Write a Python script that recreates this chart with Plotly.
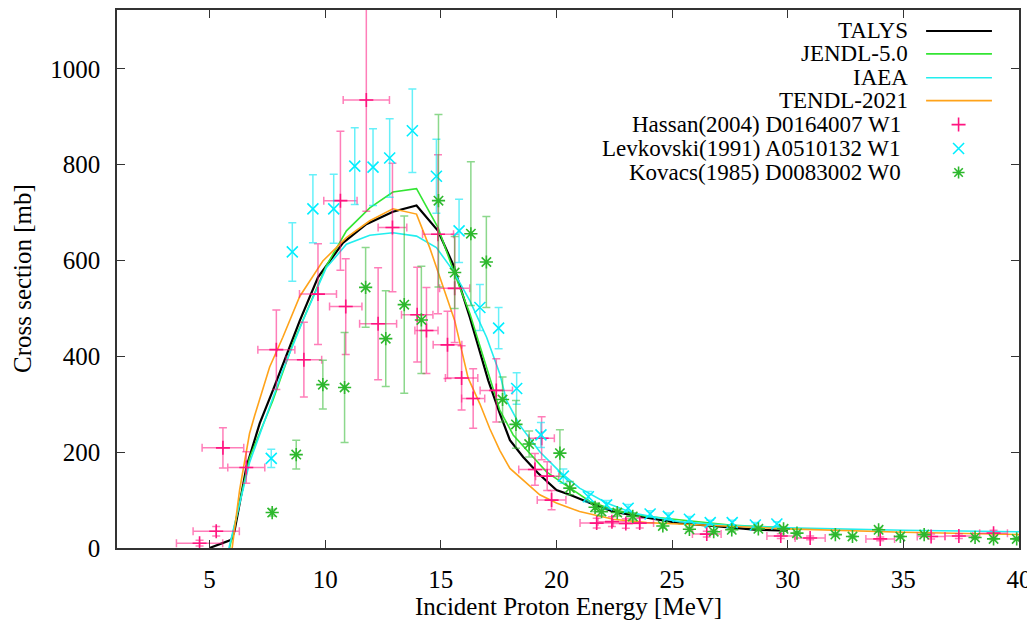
import plotly.graph_objects as go

# ---------------- data ----------------
talys_E = [5.0, 5.94, 6.08, 6.6, 7.17, 7.74, 8.9, 9.69, 10.77, 11.78, 12.93, 13.95, 14.88, 15.53, 16.26,
           17.05, 17.55, 17.99, 18.56, 19.21, 20.0, 20.58, 21.45, 22.46, 23.6, 25.3, 27.0, 28.67, 30.0]
talys_s = [0, 17, 35, 170, 260, 329, 474, 565, 637, 676, 702, 715, 662, 592, 481,
           350, 281, 225, 190, 156, 121, 111, 94, 76, 66, 52, 45, 38, 36]

jendl_E = [5.87, 6.73, 7.74, 8.6, 9.4, 10.05, 10.92, 11.93, 12.93, 13.95, 14.88, 15.6, 16.26, 17.05,
           17.55, 18.13, 18.85, 19.57, 20.29, 21.45, 22.46, 23.9, 25.3, 27.5, 30.0]
jendl_s = [0, 188, 308, 426, 516, 589, 662, 710, 743, 750, 669, 572, 489, 364,
           288, 236, 198, 159, 135, 97, 80, 66, 59, 48, 42]

iaea_E = [5.84, 6.73, 8.17, 9.04, 10.05, 10.92, 11.93, 12.93, 13.95, 14.81, 15.53, 16.26, 16.98, 17.55,
          17.84, 18.42, 19.28, 20.15, 21.0, 22.17, 23.3, 25.3, 27.5, 30.0, 35.0, 40.0]
iaea_s = [0, 178, 371, 475, 585, 634, 653, 658, 651, 627, 579, 516, 440, 364,
          308, 256, 201, 159, 125, 94, 73, 55, 47, 42, 37, 34]

tendl_E = [5.98, 6.3, 6.73, 6.95, 7.6, 8.17, 8.9, 9.9, 10.92, 11.93, 12.93, 13.95, 14.52, 15.1, 15.6,
           16.18, 16.69, 17.12, 17.55, 17.99, 18.56, 19.28, 20.0, 21.0, 22.46, 23.9, 25.3, 27.5, 30.0, 35.0, 40.0]
tendl_s = [0, 121, 239, 276, 378, 440, 525, 599, 648, 683, 708, 697, 627, 544, 475,
           355, 301, 249, 204, 166, 142, 111, 94, 76, 60, 53, 50, 45, 40, 33, 28]

hassan_E = [4.57, 5.29, 5.58, 6.59, 7.89, 9.08, 9.69, 10.66, 10.89, 11.78, 12.29, 12.91, 13.98, 14.38,
            14.88, 15.29, 15.6, 15.9, 16.4, 17.4, 19.07, 19.36, 19.6, 19.79, 21.74, 22.4, 23.0, 23.6,
            26.5, 29.7, 30.97, 34.0, 36.2, 37.4, 38.9]
hassan_s = [10, 35, 209, 168, 414, 393, 530, 725, 504, 935, 468, 669, 487, 454,
            655, 424, 542, 355, 312, 329, 164, 229, 150, 100, 52, 55, 51, 52,
            29, 25, 21, 19, 24, 25, 31]
hassan_ds = [6, 10, 42, 33, 83, 78, 105, 145, 100, 232, 117, 134, 99, 90,
             166, 70, 113, 67, 62, 66, 33, 45, 30, 20, 10, 10, 10, 10,
             6, 5, 4, 4, 5, 5, 6]
hassan_dE = [1.0, 1.0, 0.9, 0.8, 0.8, 0.77, 0.8, 0.72, 0.7, 1.0, 0.8, 0.62, 0.68, 0.5,
             0.67, 0.62, 0.65, 0.7, 0.5, 0.7, 0.7, 0.55, 0.5, 0.62, 0.72, 0.6, 0.6, 0.6,
             0.62, 0.6, 0.65, 0.62, 0.6, 0.6, 0.6]

levk_E = [7.67, 8.58, 9.47, 10.37, 11.28, 12.07, 12.79, 13.77, 14.81, 15.79, 16.69, 17.5, 18.28,
          19.33, 20.3, 21.38, 22.17, 23.1, 24.05, 24.84, 25.75, 26.65, 27.6, 28.6, 29.53]
levk_s = [187, 618, 708, 708, 797, 795, 814, 871, 776, 662, 502, 459, 333,
          236, 150, 107, 90, 83, 71, 66, 60, 53, 53, 48, 50]
levk_ds = [19, 61, 71, 72, 80, 80, 82, 87, 77, 66, 48, 43, 33,
           26, 15, 11, 9, 8, 7, 7, 6, 5, 5, 5, 5]

kov_E = [7.71, 8.75, 9.9, 10.84, 11.75, 12.62, 13.42, 14.16, 14.9, 15.6, 16.3, 16.97, 17.67, 18.25,
         18.82, 20.15, 20.58, 21.67, 21.95, 22.63, 23.3, 24.6, 25.75, 26.8, 27.58, 28.73, 29.82, 30.4,
         32.06, 32.8, 33.93, 34.87, 35.9, 38.1, 38.9, 39.9]
kov_s = [74, 195, 341, 335, 544, 437, 508, 476, 725, 575, 656, 597, 310, 258,
         217, 198, 125, 85, 76, 74, 66, 46, 39, 34, 38, 40, 40, 31,
         28, 24, 38, 24, 28, 22, 19, 19]
kov_ds = [7, 30, 51, 115, 83, 100, 185, 112, 180, 75, 150, 95, 47, 50,
          27, 49, 14, 9, 8, 7, 7, 5, 4, 3, 4, 4, 4, 3,
          3, 2, 4, 2, 3, 2, 2, 2]

x_ticks = [5, 10, 15, 20, 25, 30, 35, 40]
y_ticks = [0, 200, 400, 600, 800, 1000]

# ---------------- styles ----------------
FONT = "Liberation Serif"
C_TALYS = "#000000"
C_JENDL = "#33e533"
C_IAEA = "#22eeee"
C_TENDL = "#ffa31a"
C_HAS = "#ff1480"
C_LEV = "#00eeff"
C_KOV = "#2db82d"

fig = go.Figure()

curves = [("TALYS", talys_E, talys_s, C_TALYS, 2.2),
          ("JENDL-5.0", jendl_E, jendl_s, C_JENDL, 1.6),
          ("IAEA", iaea_E, iaea_s, C_IAEA, 1.6),
          ("TENDL-2021", tendl_E, tendl_s, C_TENDL, 1.6)]
for name, xs, ys, col, w in curves:
    fig.add_trace(go.Scatter(x=xs, y=ys, mode="lines", name=name,
                             line=dict(color=col, width=w), showlegend=False))

fig.add_trace(go.Scatter(
    x=hassan_E, y=hassan_s, mode="markers", name="Hassan(2004) D0164007 W1", showlegend=False,
    marker=dict(symbol="cross-thin", size=10, color=C_HAS, line=dict(color=C_HAS, width=1.6)),
    error_y=dict(type="data", array=hassan_ds, color="rgba(255,20,128,0.55)", thickness=1.5, width=4),
    error_x=dict(type="data", array=hassan_dE, color="rgba(255,20,128,0.55)", thickness=1.5, width=4)))
fig.add_trace(go.Scatter(
    x=levk_E, y=levk_s, mode="markers", name="Levkovski(1991) A0510132 W1", showlegend=False,
    marker=dict(symbol="x-thin", size=11, color=C_LEV, line=dict(color=C_LEV, width=1.6)),
    error_y=dict(type="data", array=levk_ds, color="rgba(0,230,245,0.6)", thickness=1.5, width=4)))
fig.add_trace(go.Scatter(
    x=kov_E, y=kov_s, mode="markers", name="Kovacs(1985) D0083002 W0", showlegend=False,
    marker=dict(symbol="asterisk", size=11, color=C_KOV, line=dict(color=C_KOV, width=1.6)),
    error_y=dict(type="data", array=kov_ds, color="rgba(45,184,45,0.55)", thickness=1.5, width=4)))

# ---------------- hand-made gnuplot style key ----------------
key_y = [0.961, 0.9185, 0.874, 0.8315, 0.787, 0.7426, 0.698]
key_labels = ["TALYS", "JENDL-5.0", "IAEA", "TENDL-2021",
              "Hassan(2004) D0164007 W1", "Levkovski(1991) A0510132 W1", "Kovacs(1985) D0083002 W0"]
annotations = []
shapes = []
for i, lab in enumerate(key_labels):
    xr = 0.879 if i < 4 else 0.871
    annotations.append(dict(x=xr, y=key_y[i], xref="paper", yref="paper", text=lab,
                            showarrow=False, xanchor="right", yanchor="middle",
                            font=dict(family=FONT, size=23, color="black")))
for i, (name, xs, ys, col, w) in enumerate(curves):
    shapes.append(dict(type="line", xref="paper", yref="paper", x0=0.897, x1=0.970,
                       y0=key_y[i], y1=key_y[i], line=dict(color=col, width=w)))
fig.add_trace(go.Scatter(x=[0.933], y=[key_y[4]], xaxis="x2", yaxis="y2", mode="markers", showlegend=False,
                         hoverinfo="skip",
                         marker=dict(symbol="cross-thin", size=10, color=C_HAS, line=dict(color=C_HAS, width=1.6))))
fig.add_trace(go.Scatter(x=[0.933], y=[key_y[5]], xaxis="x2", yaxis="y2", mode="markers", showlegend=False,
                         hoverinfo="skip",
                         marker=dict(symbol="x-thin", size=11, color=C_LEV, line=dict(color=C_LEV, width=1.6))))
fig.add_trace(go.Scatter(x=[0.933], y=[key_y[6]], xaxis="x2", yaxis="y2", mode="markers", showlegend=False,
                         hoverinfo="skip",
                         marker=dict(symbol="asterisk", size=10, color=C_KOV, line=dict(color=C_KOV, width=1.6))))

# axis titles
annotations.append(dict(x=0.5, y=-0.109, xref="paper", yref="paper", text="Incident Proton Energy [MeV]",
                        showarrow=False, xanchor="center", yanchor="middle",
                        font=dict(family=FONT, size=25, color="black")))
annotations.append(dict(x=-0.1053, y=0.5, xref="paper", yref="paper", text="Cross section [mb]",
                        showarrow=False, xanchor="center", yanchor="middle", textangle=-90,
                        font=dict(family=FONT, size=25, color="black")))

# page has an 8px body margin, so the figure is sized/offset to land the frame where the reference has it
fig.update_layout(
    width=1027, height=617,
    margin=dict(l=109, r=16, t=0, b=77),
    paper_bgcolor="white", plot_bgcolor="white",
    font=dict(family=FONT, size=25, color="black"),
    showlegend=False,
    annotations=annotations, shapes=shapes,
    xaxis=dict(range=[1, 40], tickvals=x_ticks, ticktext=[str(v) for v in x_ticks],
               ticks="inside", ticklen=8, tickwidth=1.2, tickcolor="#333",
               showline=True, linecolor="#333", linewidth=1.5, mirror="ticks",
               showgrid=False, zeroline=False, ticklabelstandoff=8, ticklabeloverflow="allow",
               tickfont=dict(family=FONT, size=25, color="black")),
    yaxis=dict(range=[0, 1123], tickvals=y_ticks, ticktext=[str(v) for v in y_ticks],
               ticks="inside", ticklen=8, tickwidth=1.2, tickcolor="#333",
               showline=True, linecolor="#333", linewidth=1.5, mirror="ticks",
               showgrid=False, zeroline=False, ticklabelstandoff=10, ticklabeloverflow="allow",
               tickfont=dict(family=FONT, size=25, color="black")),
    xaxis2=dict(overlaying="x", range=[0, 1], visible=False, fixedrange=True),
    yaxis2=dict(overlaying="y", range=[0, 1], visible=False, fixedrange=True),
)

fig.write_html("out.html")
